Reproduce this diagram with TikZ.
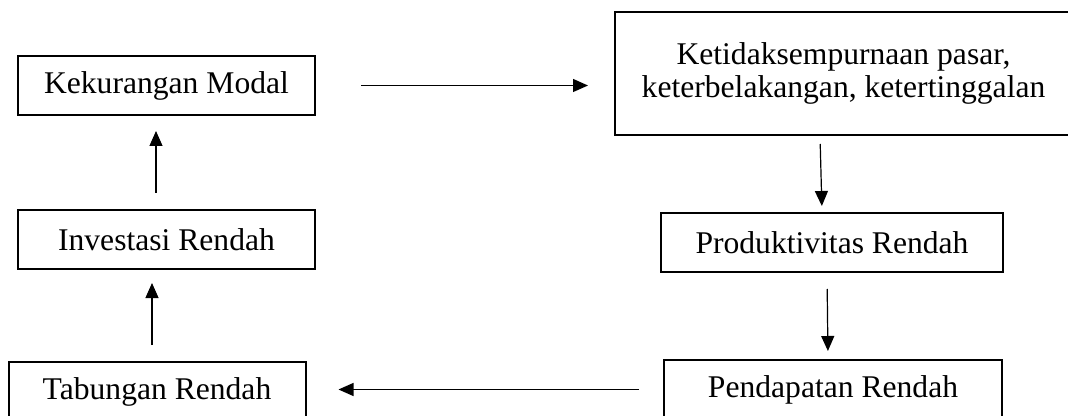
\documentclass[tikz,border=0pt]{standalone}
\usepackage{fontspec}
\setmainfont{Liberation Serif}
\usetikzlibrary{arrows.meta,positioning}

\begin{document}
\begin{tikzpicture}[x=0.5pt, y=-0.5pt, every node/.style={font=\fontsize{15.8}{16.8}\selectfont}]
\tikzset{box/.style={draw, line width=1pt, minimum width=148.5pt, minimum height=29.5pt, inner sep=0pt}}
\tikzset{arr/.style={-{Triangle[length=7.5pt,width=6.5pt]}, line width=0.6pt}}
\useasboundingbox (0,0) rectangle (1068,416);
\node[box] (km) at (166.5,85.5) {Kekurangan Modal};
\node[box, below=46.5pt of km] (ir) {Investasi Rendah};
\node[box, below=45.5pt of ir, xshift=-4.75pt] (tr) {Tabungan Rendah};
\node[box, align=center, minimum width=228.5pt, minimum height=61.5pt] (kp) at (843.5,73.5) {Ketidaksempurnaan pasar,\\keterbelakangan, ketertinggalan};
\node[box, minimum width=171pt, below=38pt of kp, xshift=-5.75pt] (pr) {Produktivitas Rendah};
\node[box, minimum width=169pt, below=43pt of pr, xshift=0.5pt] (pd) {Pendapatan Rendah};
\draw[arr, shorten <=22.5pt, shorten >=13pt] (km.east) -- (km.east -| kp.west);
\draw[arr, shorten <=4pt, shorten >=3pt] ([xshift=-6pt]pr.north |- kp.south) -- ([xshift=-5pt]pr.north);
\draw[arr, shorten <=8pt, shorten >=4pt] ([xshift=-2.5pt]pr.south) -- ([xshift=-2.5pt]pd.north);
\draw[arr, shorten <=12pt, shorten >=16pt] (pd.west) -- (pd.west -| tr.east);
\draw[arr, shorten <=8pt, shorten >=6.5pt] ([xshift=-2.5pt]tr.north) -- ([xshift=-2.5pt]tr.north |- ir.south);
\draw[arr, shorten <=8pt, shorten >=7.5pt] ([xshift=-5.25pt]ir.north) -- ([xshift=-5.25pt]ir.north |- km.south);
\end{tikzpicture}
\end{document}
